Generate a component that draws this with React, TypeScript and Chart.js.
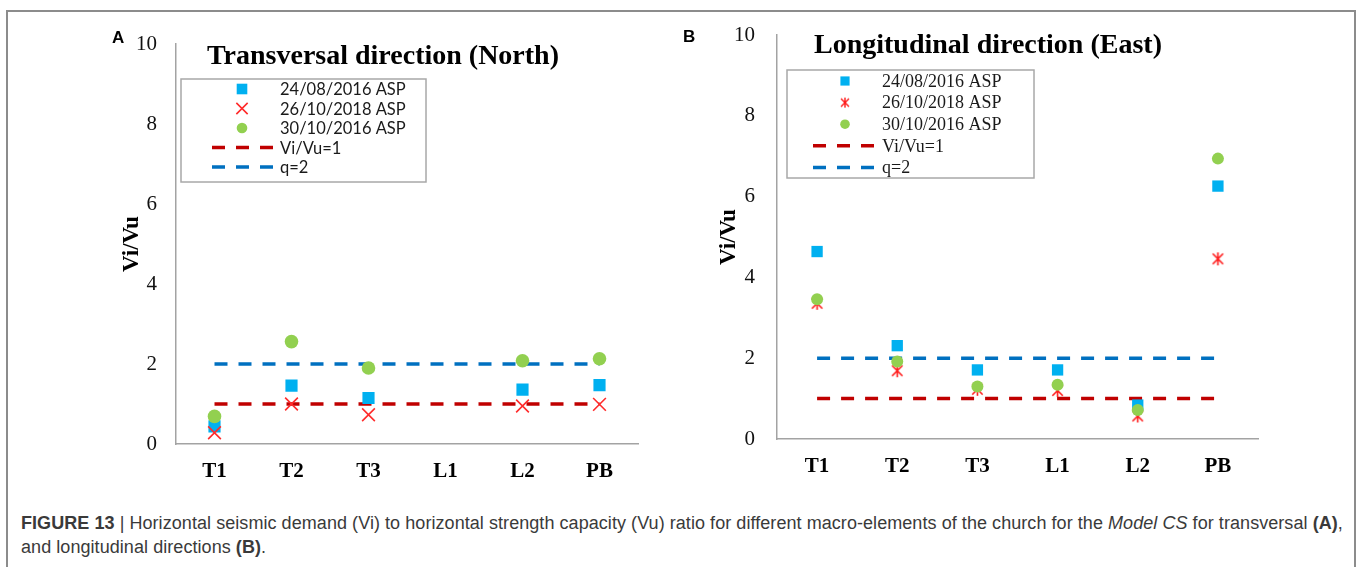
import React, { useEffect, useRef } from "react";
import { Chart, registerables } from "chart.js";
import { drawPoint } from "chart.js/helpers";

Chart.register(...registerables);

// Macro-elements of the church on the horizontal axis
const categories = ["T1", "T2", "T3", "L1", "L2", "PB"];
const yTickValues = [0, 2, 4, 6, 8, 10];
const seriesNames = ["24/08/2016 ASP", "26/10/2018 ASP", "30/10/2016 ASP", "Vi/Vu=1", "q=2"];

// Transversal direction (North): Vi/Vu per macro-element (L1 not evaluated)
const northAug2016 = [0.44, 1.46, 1.15, null, 1.36, 1.47];
const northOct2018 = [0.28, 1.0, 0.73, null, 0.95, 0.99];
const northOct2016 = [0.69, 2.56, 1.9, null, 2.08, 2.13];

// Longitudinal direction (East): Vi/Vu per macro-element
const eastAug2016 = [4.64, 2.31, 1.71, 1.71, 0.84, 6.26];
const eastOct2018 = [3.36, 1.69, 1.23, 1.2, 0.57, 4.46];
const eastOct2016 = [3.46, 1.92, 1.3, 1.34, 0.72, 6.94];

// Reference thresholds
const unitRatio = [1, 1, 1, 1, 1, 1];
const behaviourQ = [2, 2, 2, 2, 2, 2];

const BLUE_SQ = "#00b0f0";
const RED_MK = "#ff2b2b";
const GREEN_DOT = "#92d050";
const RED_DASH = "#c00000";
const BLUE_DASH = "#0070c0";
const AXIS_GREY = "#a3a3a3";

// Asterisk marker (X with a vertical bar)
function makeAsterisk(size: number, lw: number) {
  const c = document.createElement("canvas");
  c.width = size;
  c.height = size;
  const g = c.getContext("2d")!;
  g.strokeStyle = "#ff1a1a";
  g.lineWidth = lw;
  g.lineCap = "butt";
  const m = size / 2;
  const r = size / 2 - 1;
  const d = r * 0.8;
  g.beginPath();
  g.moveTo(m - d, m - d);
  g.lineTo(m + d, m + d);
  g.moveTo(m + d, m - d);
  g.lineTo(m - d, m + d);
  g.moveTo(m, m - r);
  g.lineTo(m, m + r);
  g.stroke();
  return c;
}

// Draws the panel heading and the boxed legend inside the plot
const panelDecor = {
  id: "panelDecor",
  afterDatasetsDraw(chart: any, _args: any, opts: any) {
    const ctx: CanvasRenderingContext2D = chart.ctx;
    ctx.save();
    ctx.fillStyle = "#000";
    ctx.font = opts.titleFont;
    ctx.textAlign = "center";
    ctx.textBaseline = "middle";
    ctx.fillText(opts.title, opts.titleX, opts.titleY);

    const b = opts.box;
    ctx.fillStyle = "#fff";
    ctx.fillRect(b.x, b.y, b.w, b.h);
    ctx.strokeStyle = b.color;
    ctx.lineWidth = 1.5;
    ctx.strokeRect(b.x, b.y, b.w, b.h);

    chart.data.datasets.forEach((ds: any, i: number) => {
      const y = b.firstRow + i * b.rowGap;
      ctx.save();
      if (ds.showLine === false) {
        ctx.fillStyle = ds.backgroundColor;
        ctx.strokeStyle = ds.borderColor;
        ctx.lineWidth = ds.pointBorderWidth || 0;
        drawPoint(
          ctx,
          {
            pointStyle: ds.legendPointStyle || ds.pointStyle,
            radius: b.markerRadius[i],
            rotation: 0,
            borderWidth: ds.pointBorderWidth || 0,
          } as any,
          b.markerX,
          y
        );
      } else {
        ctx.strokeStyle = ds.borderColor;
        ctx.lineWidth = ds.borderWidth;
        ctx.setLineDash(ds.borderDash);
        ctx.beginPath();
        ctx.moveTo(b.lineX1, y);
        ctx.lineTo(b.lineX2, y);
        ctx.stroke();
      }
      ctx.restore();
      ctx.fillStyle = "#1a1a1a";
      ctx.font = b.font;
      ctx.textAlign = "left";
      ctx.textBaseline = "middle";
      ctx.fillText(ds.label, b.textX, y + 1);
    });
    ctx.restore();
  },
};

function buildConfig(spec: any) {
  const markerSets = [
    {
      label: seriesNames[0],
      data: spec.aug,
      pointStyle: "rect",
      pointRadius: spec.sqR,
      backgroundColor: BLUE_SQ,
      borderColor: BLUE_SQ,
      pointBorderWidth: 0,
      order: 3,
    },
    {
      label: seriesNames[1],
      data: spec.oct18,
      pointStyle: spec.redStyle,
      legendPointStyle: spec.redLegendStyle,
      pointRadius: spec.xR,
      backgroundColor: RED_MK,
      borderColor: RED_MK,
      pointBorderWidth: 1.6,
      order: 2,
    },
    {
      label: seriesNames[2],
      data: spec.oct16,
      pointStyle: "circle",
      pointRadius: spec.cR,
      backgroundColor: GREEN_DOT,
      borderColor: GREEN_DOT,
      pointBorderWidth: 0,
      order: 1,
    },
  ].map((d) => ({ ...d, showLine: false, pointHoverRadius: d.pointRadius }));

  const thresholdSets = [
    { label: seriesNames[3], data: unitRatio, borderColor: RED_DASH, order: 4 },
    { label: seriesNames[4], data: behaviourQ, borderColor: BLUE_DASH, order: 5 },
  ].map((d) => ({
    ...d,
    backgroundColor: d.borderColor,
    borderWidth: 3.5,
    borderDash: [13, 11],
    pointRadius: 0,
    pointHoverRadius: 0,
    fill: false,
    tension: 0,
  }));

  return {
    type: "line",
    data: { labels: categories, datasets: [...markerSets, ...thresholdSets] },
    options: {
      animation: false,
      responsive: false,
      devicePixelRatio: 1,
      events: [],
      layout: { padding: { left: 0, top: spec.padTop, right: spec.padRight, bottom: 0 } },
      scales: {
        x: {
          type: "category",
          offset: true,
          grid: { display: false, drawTicks: false },
          border: { display: true, color: AXIS_GREY, width: 1.5 },
          ticks: {
            color: "#000",
            padding: spec.xPad,
            autoSkip: false,
            maxRotation: 0,
            font: { family: "'Liberation Serif', 'Times New Roman', serif", size: 21, weight: "bold" },
          },
          afterFit: (s: any) => {
            s.height = spec.xAxisH;
          },
        },
        y: {
          min: 0,
          max: 10,
          grid: { display: false, drawTicks: false },
          border: { display: true, color: AXIS_GREY, width: 1.5 },
          ticks: {
            color: "#111",
            padding: spec.yPad,
            font: { family: "'Liberation Serif', 'Times New Roman', serif", size: 21 },
          },
          afterBuildTicks: (s: any) => {
            s.ticks = yTickValues.map((v) => ({ value: v }));
          },
          title: {
            display: true,
            text: "Vi/Vu",
            color: "#000",
            padding: { top: spec.yTitlePad, bottom: 0 },
            font: { family: "'Liberation Serif', 'Times New Roman', serif", size: 23, weight: "bold" },
          },
          afterFit: (s: any) => {
            s.width = spec.yAxisW;
          },
        },
      },
      plugins: {
        legend: { display: false },
        tooltip: { enabled: false },
        panelDecor: {
          title: spec.title,
          titleX: spec.titleX,
          titleY: spec.titleY,
          titleFont: "bold 28px 'Liberation Serif', 'Times New Roman', serif",
          box: spec.box,
        },
      },
    },
    plugins: [panelDecor],
  };
}

function ChartPanel({ spec, left, top, width, height }: any) {
  const ref = useRef<HTMLCanvasElement | null>(null);
  useEffect(() => {
    if (!ref.current) return;
    const chart = new Chart(ref.current, buildConfig(spec()) as any);
    return () => chart.destroy();
  }, []);
  return (
    <canvas
      ref={ref}
      width={width}
      height={height}
      style={{ position: "absolute", left, top, width, height }}
    />
  );
}

const northSpec = () => ({
  title: "Transversal direction (North)",
  titleX: 383,
  titleY: 57,
  aug: northAug2016,
  oct18: northOct2018,
  oct16: northOct2016,
  redStyle: "crossRot",
  redLegendStyle: "crossRot",
  sqR: 8.6,
  xR: 9,
  cR: 6.8,
  padTop: 44,
  padRight: 22,
  yAxisW: 176,
  xAxisH: 46,
  xPad: 15,
  yPad: 19,
  yTitlePad: 118,
  box: {
    x: 181,
    y: 79,
    w: 245,
    h: 103,
    color: "#a8a8a8",
    firstRow: 89,
    rowGap: 19.5,
    markerX: 242,
    markerRadius: [7.5, 8, 5.3, 0, 0],
    textX: 280,
    lineX1: 212,
    lineX2: 273,
    font: "16.5px Lato, 'Open Sans', sans-serif",
  },
});

const eastSpec = () => ({
  title: "Longitudinal direction (East)",
  titleX: 328,
  titleY: 46,
  aug: eastAug2016,
  oct18: eastOct2018,
  oct16: eastOct2016,
  redStyle: makeAsterisk(15, 1.6),
  redLegendStyle: makeAsterisk(12, 1.4),
  sqR: 8,
  xR: 7,
  cR: 6,
  padTop: 35,
  padRight: 100,
  yAxisW: 117,
  xAxisH: 51,
  xPad: 15,
  yPad: 22,
  yTitlePad: 55,
  box: {
    x: 127,
    y: 70,
    w: 247,
    h: 108,
    color: "#a8a8a8",
    firstRow: 81,
    rowGap: 21.6,
    markerX: 185,
    markerRadius: [6.5, 6, 4.8, 0, 0],
    textX: 222,
    lineX1: 153,
    lineX2: 215,
    font: "18px 'Liberation Serif', 'Times New Roman', serif",
  },
});

export default function App() {
  const letter: React.CSSProperties = {
    position: "absolute",
    fontFamily: "'Liberation Sans', Arial, sans-serif",
    fontWeight: "bold",
    fontSize: 17,
    lineHeight: "20px",
    color: "#000",
  };
  return (
    <div
      style={{
        position: "absolute",
        left: 0,
        top: 0,
        width: 1358,
        height: 567,
        overflow: "hidden",
        background: "#fff",
      }}
    >
      <div
        style={{
          position: "absolute",
          left: 6,
          top: 10,
          width: 1350,
          height: 580,
          boxSizing: "border-box",
          border: "2px solid #8c8c8c",
        }}
      />
      <ChartPanel spec={northSpec} left={0} top={0} width={660} height={490} />
      <ChartPanel spec={eastSpec} left={660} top={0} width={698} height={490} />
      <div style={{ ...letter, left: 112, top: 28 }}>A</div>
      <div style={{ ...letter, left: 683, top: 27 }}>B</div>
      <div
        style={{
          position: "absolute",
          left: 21,
          top: 511,
          fontFamily: "'Liberation Sans', Arial, sans-serif",
          fontSize: 18,
          letterSpacing: 0.06,
          lineHeight: "24px",
          color: "#3a3a3a",
          whiteSpace: "nowrap",
        }}
      >
        <b>FIGURE 13</b> | Horizontal seismic demand (Vi) to horizontal strength capacity (Vu) ratio for
        different macro-elements of the church for the <i>Model CS</i> for transversal <b>(A)</b>,
        <br />
        and longitudinal directions <b>(B)</b>.
      </div>
    </div>
  );
}
